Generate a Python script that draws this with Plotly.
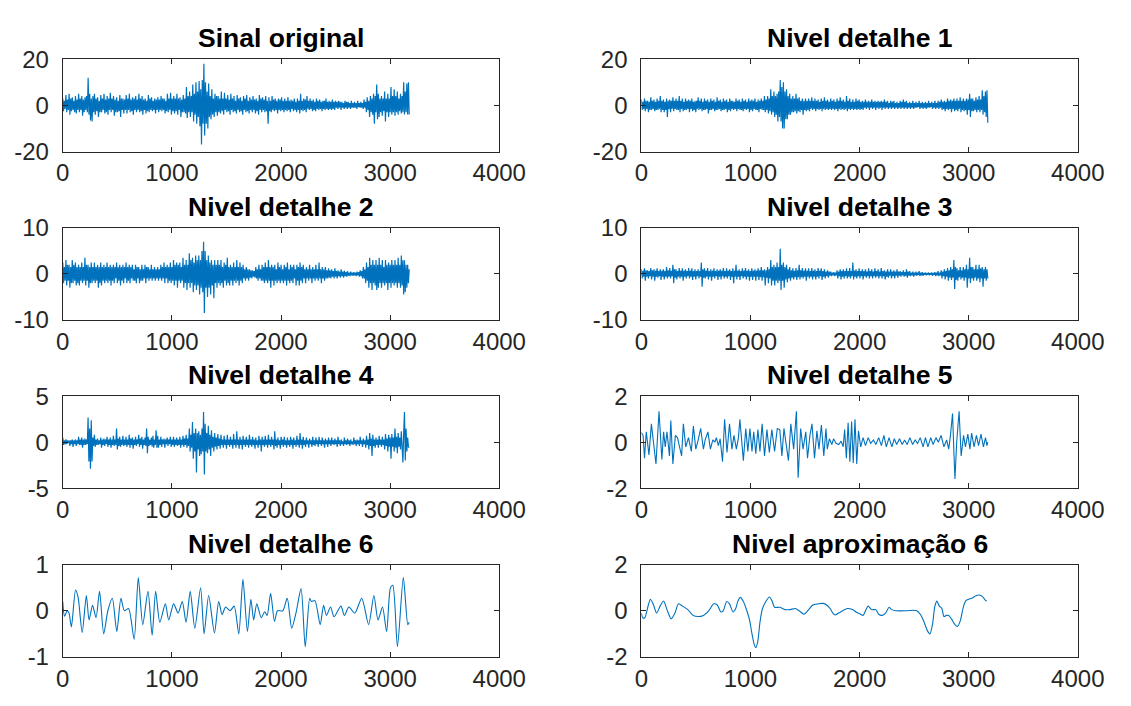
import numpy as np
import plotly.graph_objects as go

# Decomposição wavelet de um sinal (3175 amostras): sinal, detalhes 1-6 e aproximação 6
N_SAMPLES = 3175

sinal_original = [
    3, -2.5, 2, -1.5, 4.5, -3, 2.5, -2, 5, -4, 3, -2.5, 3.5, -2, 2, -3, 4, -3.5, 2.5, -2,
    5, -3, 3, -2, 4, -4.5, 2.5, -3, 3.5, -2, 4, -3, 12, -4, 5, -6.5, 3, -7, 4, -3,
    5, -4, 3, -2.5, 3.5, -5, 2, -3, 4.5, -3, 3, -2, 5, -3.5, 2.5, -3, 4, -4, 3, -2,
    5.5, -3, 3, -2, 4, -4.5, 2.5, -3, 3.5, -3, 2, -2.5, 4.5, -5, 3, -2, 3, -3.5, 2.5, -2,
    4.5, -3.5, 3, -2, 5, -3, 2.5, -2.5, 3.5, -4, 3, -2, 4, -3, 2.5, -2, 5, -3, 3, -2.5,
    4, -4, 2.5, -2, 3, -3.5, 2, -2.5, 4.5, -3, 3, -2, 3.5, -2.5, 2, -2, 3, -3.5, 2.5, -2,
    3.5, -3, 2.5, -2, 4, -2.5, 3, -2, 3, -3.5, 2, -2.5, 5, -3, 3, -2, 5.5, -4, 3, -2.5,
    4, -3.5, 3, -2.5, 5, -4, 3, -2, 3.5, -5, 2.5, -3, 4.5, -3, 3, -3.5, 8, -5.5, 4, -3,
    6, -5, 4, -3, 9, -7, 5, -4, 10, -8, 6, -5, 10.5, -9, 7, -17, 11, -8, 18,
    -13, 10, -8, 6, -10, 9.5, -5, 4, -6, 7, -4, 3, -5, 5, -3, 4, -4.5, 4, -3, 3,
    -3.5, 6, -2.5, 3, -4, 5.5, -2, 3, -3, 4.5, -2.5, 2.5, -4, 5, -2, 3, -3, 4, -2.5, 2,
    -3.5, 4.5, -2, 3, -3, 3.5, -2.5, 2, -4, 4, -2, 3, -3, 4.5, -2.5, 2, -3.5, 3.5, -2, 2.5,
    -3, 4, -2, 2.5, -3.5, 3, -2.5, 2, -4, 4.5, -2, 3, -3, 3.5, -2, 2.5, -3, 4, -2.5, 2,
    -8, 3.5, -2.5, 2, -3, 4, -2, 2.5, -2.5, 3, -2, 2, -3.5, 3, -2, 2.5, -2.5, 3.5, -2, 2,
    -3, 3, -2, 2, -2.5, 3.5, -2, 2, -3, 2.5, -1.5, 2, -2.5, 3, -2, 1.5, -3, 3, -2, 2,
    -3.5, 5, -2, 2, -2.5, 3, -2, 2.5, -3, 4, -1.5, 2, -2, 3, -1.5, 2, -2.5, 2.5, -2, 1.5,
    -2.5, 3, -1.5, 2, -2, 2.5, -1.5, 1.5, -2.5, 2, -1.5, 2, -2, 3, -1.5, 1.5, -2, 2, -1.5, 1.5,
    -2, 2.5, -1.5, 1.5, -2, 2, -1, 1.5, -1.5, 2, -1, 1.5, -2, 1.5, -1, 1, -1.5, 2, -1, 1.5,
    -1.5, 1.5, -1, 1, -1.5, 2, -1, 1, -1, 1.5, -1, 1, -1.5, 2, -0.8, 1, -1, 1.5, -1, 1,
    -1.5, 2.5, -1, 1.5, -3, 3.5, -2, 2, -5, 4, -3, 3, -4, 5, -8, 4, -3, 9, -6,
    5, -5, 3, -3, 4, -4.5, 3, -2.5, 6, -7, 3, -3, 5, -5, 3, -3, 8, -4, 4, -3,
    7, -4.5, 4, -3, 6, -4, 3, -2.5, 5, -3.5, 4, -3, 10, -4, 6, -3, 9.5, -4, 10, -4,
]

detalhe_1 = [
    2.5, -2, 1.5, -1.5, 3, -2.5, 2, -1.5, 2, -3, 1.5, -2, 3.5, -2, 2, -1.5, 2.5, -2.5, 1.5, -2,
    3, -2, 2, -1.5, 4, -3, 2, -2, 2.5, -3, 1.5, -2, 3, -5, 2, -1.5, 2.5, -3, 2, -1.5,
    3.5, -2.5, 2, -1.5, 3, -2, 2, -2, 4, -3, 2, -1.5, 3, -2.5, 1.5, -2, 3, -2, 2, -1.5,
    2.5, -3, 2, -1.5, 3, -2.5, 1.5, -2, 2, -3, 2, -1.5, 3.5, -2, 2, -1.5, 3, -2.5, 1.5, -2,
    3, -2, 2, -1.5, 2.5, -3.5, 1.5, -2, 3, -2, 2, -1.5, 2.5, -2.5, 1.5, -2, 3.5, -2, 2, -1.5,
    2.5, -2.5, 1.5, -2, 3, -2, 2, -1.5, 2.5, -3, 1.5, -2, 3, -2.5, 2, -1.5, 2, -2, 1.5, -1.5,
    3, -2.5, 2, -1.5, 2.5, -2, 1.5, -2, 3, -2.5, 2, -1.5, 2.5, -2, 1.5, -1.5, 3, -3, 2, -2,
    2.5, -2.5, 2, -1.5, 3, -2, 1.5, -2, 2.5, -3, 2, -1.5, 3, -2, 2, -2, 4, -3, 2.5, -2,
    4, -3.5, 3, -2.5, 7, -4, 4, -3, 6, -5, 4, -4, 5, -7, 6, -5, 11, -7, 8, -10,
    10, -10, 6, -6, 7, -6, 4, -4, 5, -4, 3, -3, 4, -3, 3, -2.5, 5, -3.5, 3, -2.5,
    3.5, -3, 2, -2, 3, -4, 2, -2, 3, -2.5, 2, -2, 3, -2.5, 2, -1.5, 3.5, -2, 2, -1.5,
    3, -2.5, 2, -1.5, 2.5, -2, 1.5, -1.5, 3, -2.5, 2, -1.5, 3.5, -2, 2, -1.5, 2.5, -2, 1.5, -1.5,
    3, -2, 2, -1.5, 2.5, -2, 1.5, -1.5, 3, -2.5, 2, -1.5, 3.5, -2, 2, -1.5, 2.5, -2, 1.5, -1.5,
    4, -2.5, 2, -1.5, 3, -2, 1.5, -1.5, 2.5, -2, 1.5, -1.5, 3, -2, 2, -1.5, 2.5, -2, 1.5, -1.5,
    2, -2, 1.5, -1, 2.5, -1.5, 1.5, -1, 2, -2, 1.5, -1, 2.5, -1.5, 1.5, -1, 2, -2, 1.5, -1,
    2, -1.5, 1.5, -1, 2, -2, 1.5, -1, 2.5, -1.5, 1.5, -1, 2, -1.5, 1, -1, 2, -1.5, 1.5, -1,
    2, -1.5, 1, -1, 1.5, -1.5, 1, -1, 2, -1.5, 1.5, -1, 2.5, -1.5, 1.5, -1, 2, -1.5, 1, -1,
    1.5, -1.5, 1, -1, 2, -1.5, 1, -1, 1.5, -1, 1, -0.8, 2, -1.5, 1, -1, 1.5, -1.5, 1, -1,
    1.5, -1.5, 1, -1, 2, -1, 1, -0.8, 1.5, -1.5, 1, -1, 2, -1.5, 1, -1, 2, -1.5, 1.5, -1,
    2.5, -2, 1.5, -1.5, 2, -2.5, 1.5, -1.5, 3, -2, 2, -1.5, 2.5, -3, 2, -1.5, 3, -2.5, 2, -2,
    3, -2.5, 2, -1.5, 3.5, -3, 2, -2, 3, -2.5, 2, -2, 3, -4, 2.5, -2, 5, -5, 3, -2.5,
    3, -2.5, 2, -2, 3.5, -3, 2.5, -2, 4, -3, 2.5, -2, 6.5, -4, 4, -3, 6, -5, 6.5, -7.5,
]

detalhe_2 = [
    2.5, -2, 1.5, -1.5, 3, -2.5, 2, -1.5, 2, -3, 1.5, -2, 3, -2, 2, -1.5, 2.5, -2.5, 1.5, -2,
    2, -2.5, 1.5, -1.5, 2.5, -2, 1.5, -1.5, 3.5, -2.5, 2, -1.5, 2, -3, 1.5, -2, 2.5, -2, 1.5, -1.5,
    2.5, -2, 1.5, -1.5, 2, -3, 1.5, -2, 2.5, -2.5, 1.5, -1.5, 2, -2, 1.5, -1.5, 2.5, -2, 1.5, -1.5,
    2, -2.5, 1.5, -1.5, 2, -2, 1.5, -1, 2.5, -2, 1.5, -1.5, 2, -2.5, 1.5, -1.5, 2, -2, 1.5, -1,
    2.5, -2, 1.5, -1.5, 2, -2, 1.5, -1, 2, -1.5, 1, -1.5, 2, -2, 1.5, -1, 1.5, -2, 1, -1.5,
    2, -1.5, 1, -1, 2, -2, 1.5, -1, 1.5, -1.5, 1, -1, 2, -1.5, 1, -1, 1.5, -1.5, 1, -1,
    1.5, -1.5, 1, -1, 2, -1.5, 1.5, -1, 2.5, -2, 1.5, -1, 2, -2, 1.5, -1.5, 2.5, -2, 1.5, -1.5,
    3, -2.5, 2, -1.5, 2.5, -3, 2, -1.5, 2.5, -2, 1.5, -1.5, 3.5, -3, 2, -2, 3, -3.5, 2, -2,
    4.5, -3, 3, -2, 3.5, -4, 2.5, -2.5, 4, -3.5, 3, -2.5, 4, -4.5, 3, -3, 5, -4, 7,
    -8.5, 5, -3, 3, -5, 4, -3, 2.5, -4.5, 3, -2.5, 2, -5.3, 3, -2, 2, -3, 3, -2, 2,
    -2.5, 3, -2, 1.5, -3, 2.5, -1.5, 2, -2.5, 3.5, -2, 1.5, -2.5, 2, -1.5, 1.5, -2.5, 2.5, -1.5, 1.5,
    -2, 3, -1.5, 1.5, -2.5, 2.5, -1.5, 1.5, -2, 2, -1, 1, -1.5, 1.5, -1, 1, -1.5, 1, -0.8, 0.8,
    -1, 0.8, -0.6, 0.6, -0.8, 1.5, -1, 1, -1.5, 2, -1, 1, -1.5, 2, -1.5, 1.5, -2, 2.5, -1.5, 1.5,
    -2, 3, -1.5, 1.5, -3, 2, -1.5, 1.5, -2.5, 2, -1.5, 1, -2, 2.5, -1.5, 1.5, -2, 2, -1.5, 1,
    -2, 2, -1.5, 1.5, -2.5, 2.5, -1.5, 1, -2, 2, -1.5, 1.5, -2, 2, -1, 1, -2.5, 2, -1.5, 1.5,
    -2.5, 2.5, -1.5, 1.5, -2, 2, -1, 1, -2, 1.5, -1, 1, -1.5, 2, -1, 1, -2, 1.5, -1, 1,
    -1.5, 2, -1, 1, -1.5, 2.5, -1, 1, -2, 1.5, -1, 1, -1.5, 1.5, -1, 0.8, -1, 1.2, -0.8, 0.8,
    -1, 1, -0.6, 0.6, -1, 1.2, -0.6, 0.6, -1, 0.8, -0.5, 0.5, -0.8, 1, -0.5, 0.5, -0.8, 0.7, -0.5, 0.4,
    -0.6, 0.6, -0.4, 0.3, -0.5, 0.5, -0.3, 0.3, -0.4, 0.4, -0.3, 0.3, -0.5, 0.5, -0.3, 0.4, -0.6, 0.8, -0.5, 0.6,
    -1, 1.5, -1, 1, -2, 2.5, -1.5, 1.5, -3, 3.5, -2, 2, -3.5, 3, -2, 2, -2.5, 3, -3.5, 2,
    -3, 3.5, -2, 2, -3, 3, -2, 1.5, -2.5, 3, -2, 2, -3.5, 2.5, -2, 2, -3, 3, -2, 2,
    -2.5, 3, -2, 2, -3, 3.5, -2, 2, -3, 4, -2.5, 3, -4.5, 3, -4, 2, -3, 2, -2, 1,
]

detalhe_3 = [
    1, -1, 0.7, -0.6, 1.2, -1.5, 0.8, -0.6, 0.8, -1, 0.6, -0.5, 1.3, -1.2, 0.8, -0.6, 1, -1.5, 0.7, -0.6,
    1.2, -0.8, 0.6, -0.5, 1, -1.3, 0.7, -0.6, 1, -1.2, 0.6, -0.6, 1.5, -1, 0.8, -0.6, 1.3, -1, 0.7, -0.5,
    2, -2, 1, -0.8, 1, -1.2, 0.6, -0.6, 1.3, -1, 0.7, -0.6, 1.2, -1.5, 0.7, -0.6, 1, -1, 0.6, -0.5,
    1.3, -1, 0.7, -0.6, 1.2, -1.3, 0.6, -0.6, 1, -1.2, 0.6, -0.5, 1, -1, 0.6, -0.6, 2.5, -2.8, 1, -0.8,
    1.2, -1, 0.7, -0.6, 1.3, -1.2, 0.6, -0.6, 1, -1.5, 0.7, -0.6, 1.2, -1, 0.6, -0.5, 1, -1.3, 0.7, -0.6,
    1, -1.2, 0.7, -0.5, 1.3, -1, 0.6, -0.6, 1.2, -1, 0.7, -0.5, 1, -1.3, 0.6, -0.6, 1.2, -2, 0.7, -0.6,
    2, -1.2, 0.7, -0.6, 1, -1.3, 0.6, -0.5, 1.2, -1, 0.7, -0.6, 1.3, -1.2, 0.7, -0.6, 1, -1.5, 0.6, -0.6,
    1.2, -1.3, 0.7, -0.6, 1, -1.5, 0.7, -0.6, 1.2, -1.3, 0.8, -0.7, 1.5, -1.5, 0.8, -0.7, 1, -2.5, 0.8, -0.8,
    1.5, -2, 1, -1, 3, -2.5, 1.5, -1.5, 2, -2.5, 1.5, -1.5, 2.5, -2, 1.5, -1.5, 5.5, -3.5, 2, -1.5,
    2.5, -3, 1.5, -1.2, 2, -1.8, 1, -1, 1.5, -1.5, 0.8, -0.8, 1.2, -1.2, 0.7, -0.7, 1.3, -1.3, 0.8, -0.7,
    2, -1.2, 0.8, -0.7, 1.3, -1, 0.7, -0.6, 1.2, -1.5, 0.7, -0.6, 1.2, -1, 0.6, -0.6, 1.3, -1.2, 0.7, -0.6,
    1, -1.2, 0.6, -0.6, 1.3, -1, 0.7, -0.5, 1.2, -1.3, 0.6, -0.6, 1, -1, 0.5, -0.5, 0.8, -0.8, 0.5, -0.4,
    0.5, -0.5, 0.3, -0.3, 0.4, -0.5, 0.3, -0.3, 0.8, -1, 0.5, -0.5, 1, -1.2, 0.6, -0.6, 1, -1, 0.6, -0.5,
    1.2, -1, 0.6, -0.6, 1.3, -1, 0.6, -0.5, 2.5, -1.2, 0.7, -0.6, 1, -1, 0.6, -0.5, 1.2, -1, 0.6, -0.5,
    1, -1.2, 0.6, -0.5, 1, -0.8, 0.5, -0.5, 1.2, -1, 0.6, -0.5, 1, -1, 0.5, -0.5, 1.2, -0.8, 0.6, -0.5,
    1, -1, 0.5, -0.5, 1.3, -1, 0.6, -0.5, 0.8, -1.2, 0.5, -0.6, 1, -0.8, 0.5, -0.4, 1, -1, 0.5, -0.5,
    0.8, -1, 0.5, -0.4, 1, -0.8, 0.5, -0.4, 0.6, -0.6, 0.4, -0.3, 0.8, -0.6, 0.4, -0.4, 1, -0.8, 0.5, -0.4,
    0.6, -0.5, 0.3, -0.3, 0.5, -0.6, 0.3, -0.3, 0.5, -0.4, 0.3, -0.2, 0.6, -0.5, 0.3, -0.3, 0.4, -0.4, 0.2, -0.2,
    0.3, -0.3, 0.2, -0.2, 0.3, -0.3, 0.2, -0.2, 0.3, -0.4, 0.2, -0.2, 0.4, -0.5, 0.3, -0.3, 0.6, -0.5, 0.3, -0.3,
    0.8, -1, 0.5, -0.5, 1, -1.2, 0.6, -0.6, 1.3, -1.5, 0.8, -0.8, 1.5, -1.3, 1, -0.8, 3, -3.3, 1.5, -1.3,
    1.2, -1.5, 0.8, -0.7, 1.5, -1.2, 0.8, -0.8, 1.5, -1.5, 1, -0.8, 2, -3, 1, -1, 3.5, -2, 1.5, -1,
    1.5, -1.5, 1, -0.8, 2, -1.5, 1, -1, 2, -1.8, 1.2, -1, 1.5, -2.8, 1, -1, 1.5, -1.5, 1, -1,
]

detalhe_4 = [
    0.5, -0.3, 0.2, -0.2, 0.3, -0.2, 0.2, -0.1, 0.2, -0.4, 0.2, -0.2, 0.3, -0.5, 0.2, -0.2, 0.3, -0.4, 0.2, -0.2,
    0.6, -0.3, 0.3, -0.3, 0.5, -0.6, 0.3, -0.3, 0.4, -0.3, 0.3, -0.2, 2.7, -2.1, 1.5, -2.9, 2.4, -2.1, 0.5, -0.4,
    0.8, -0.5, 0.3, -0.3, 0.4, -0.3, 0.2, -0.2, 0.5, -0.6, 0.3, -0.3, 0.4, -0.4, 0.3, -0.2, 0.6, -0.5, 0.3, -0.3,
    0.5, -0.6, 0.3, -0.3, 0.7, -0.4, 0.3, -0.3, 1.5, -0.8, 0.4, -0.4, 0.6, -0.5, 0.3, -0.3, 0.7, -0.4, 0.3, -0.3,
    0.6, -0.5, 0.3, -0.3, 0.8, -0.6, 0.4, -0.3, 0.5, -0.7, 0.3, -0.3, 0.6, -0.4, 0.3, -0.2, 0.8, -0.5, 0.4, -0.3,
    0.6, -0.7, 0.3, -0.3, 0.5, -0.4, 1.5, -1.2, 0.6, -0.4, 0.3, -0.3, 0.5, -0.5, 0.7, -0.6, 0.3, -0.3, 1.3, -0.6,
    0.7, -0.6, 0.3, -0.3, 0.6, -0.5, 0.3, -0.2, 0.4, -0.6, 0.3, -0.2, 0.5, -0.4, 0.3, -0.2, 0.6, -0.5, 0.3, -0.3,
    0.6, -0.5, 0.3, -0.3, 0.5, -0.4, 0.3, -0.3, 0.6, -0.6, 0.3, -0.3, 0.7, -0.5, 0.4, -0.3, 0.8, -0.6, 0.4, -0.4,
    1.5, -1, 0.8, -0.6, 2.2, -1.8, 1, -1, 1.5, -3.3, 1, -0.8, 1.2, -1.5, 0.8, -1.3, 1.5, -1, 3.3,
    -3.5, 2, -1, 1, -1.2, 1.8, -0.8, 0.8, -1.5, 1.3, -0.6, 0.6, -1, 1, -0.5, 0.5, -0.8, 0.9, -0.4, 0.4,
    -0.7, 0.8, -0.3, 0.3, -0.6, 0.7, -0.3, 0.3, -0.7, 0.8, -0.3, 0.3, -0.5, 0.6, -0.3, 0.3, -0.7, 0.9, -0.3, 0.3,
    -0.6, 1.2, -0.3, 0.3, -0.7, 0.6, -0.3, 0.3, -0.8, 0.7, -0.3, 0.3, -0.5, 0.6, -0.3, 0.3, -0.6, 0.8, -0.3, 0.3,
    -0.5, 0.6, -0.3, 0.3, -0.7, 0.5, -0.3, 0.2, -0.6, 0.7, -0.3, 0.3, -1, 0.6, -0.3, 0.3, -0.5, 0.7, -0.3, 0.3,
    -0.6, 0.8, -0.3, 0.3, -0.5, 0.6, -0.3, 0.3, -0.8, 1.2, -0.4, 0.3, -0.6, 0.5, -0.3, 0.2, -0.7, 0.6, -0.3, 0.3,
    -0.5, 0.6, -0.3, 0.2, -0.6, 0.5, -0.3, 0.2, -0.5, 0.6, -0.3, 0.3, -0.7, 0.5, -0.3, 0.2, -0.5, 0.7, -0.3, 0.3,
    -0.6, 1, -0.3, 0.3, -0.7, 0.6, -0.3, 0.2, -0.5, 0.5, -0.2, 0.2, -0.6, 0.4, -0.2, 0.2, -0.5, 0.6, -0.3, 0.2,
    -0.4, 0.5, -0.2, 0.2, -0.5, 0.6, -0.2, 0.2, -0.4, 0.5, -0.2, 0.2, -0.6, 0.4, -0.2, 0.2, -0.5, 0.5, -0.2, 0.2,
    -0.4, 0.5, -0.2, 0.2, -0.3, 0.4, -0.2, 0.2, -0.5, 0.6, -0.2, 0.2, -0.4, 0.3, -0.2, 0.1, -0.4, 0.5, -0.2, 0.2,
    -0.3, 0.4, -0.2, 0.2, -0.4, 0.3, -0.2, 0.1, -0.3, 0.5, -0.2, 0.2, -0.4, 0.3, -0.2, 0.2, -0.4, 0.6, -0.2, 0.2,
    -0.5, 0.4, -0.2, 0.2, -0.6, 0.7, -0.3, 0.3, -0.8, 1, -0.4, 0.4, -1.5, 0.8, -0.4, 0.3, -0.6, 0.5, -0.3, 0.3,
    -0.6, 0.7, -0.3, 0.3, -0.5, 0.6, -0.3, 0.3, -0.8, 0.9, -0.4, 0.4, -1, 0.8, -0.5, 0.5, -1.8, 0.9, -0.5, 0.5,
    -1, 1.5, -0.6, 0.6, -1.2, 1, -0.5, 0.5, -0.8, 1.2, -0.6, -2.2, 1, 3.3, -2, 1.5, -1, 0.5, -0.5, -0.6,
]

# Detalhe 5: amostras dos extremos (posição, valor)
detalhe_5_t = [
    0, 16, 29, 45, 70, 92, 134, 162, 188, 204, 219, 235, 258, 270, 289, 312,
    331, 347, 369, 385, 407, 432, 458, 477, 499, 521, 544, 569, 585, 610, 633,
    655, 674, 687, 706, 722, 744, 763, 785, 808, 830, 849, 871, 890, 903, 935,
    957, 976, 995, 1014, 1030, 1049, 1068, 1087, 1107, 1129, 1151, 1173, 1196,
    1221, 1246, 1269, 1288, 1307, 1332, 1348, 1370, 1396, 1421, 1437, 1460,
    1482, 1507, 1523, 1545, 1564, 1587, 1609, 1628, 1650, 1672, 1692, 1704,
    1723, 1746, 1761, 1784, 1809, 1831, 1850, 1863, 1879, 1895, 1911, 1927,
    1942, 1958, 1974, 1990, 2010, 2032, 2054, 2079, 2102, 2127, 2149, 2175,
    2200, 2223, 2245, 2270, 2296, 2318, 2340, 2366, 2391, 2413, 2436, 2461,
    2486, 2509, 2531, 2556, 2582, 2604, 2626, 2652, 2674, 2700, 2722, 2747,
    2773, 2798, 2817, 2833, 2852, 2865, 2874, 2890, 2912, 2931, 2953, 2970,
    2992, 3011, 3027, 3049, 3071, 3090, 3113, 3135, 3154, 3167, 3175,
]
detalhe_5 = [
    0.42, 0.3, -0.7, 0.45, -0.55, 0.8, -0.95, 1.35, -0.75, 0.45, -0.2, 0.45,
    -0.6, 0.95, -0.95, 0.3, 0.2, -0.2, -0.6, 0.8, -0.2, 0.2, -0.4, 0.7, -0.3,
    0.1, 0.6, -0.3, 0.1, 0.45, -0.3, 0.1, 0.0, 0.2, -0.15, 0.15, -0.85, 1.0,
    -0.45, 0.8, -0.3, 0.3, -0.3, 0.2, 1.0, -0.8, 0.6, -0.4, 0.6, -0.4, 0.45,
    -0.5, 0.55, -0.4, 0.8, -0.6, 0.55, -0.45, 0.55, -0.4, 0.6, 0.55, -0.6,
    0.6, -0.35, -0.8, 0.8, -0.3, 1.35, -1.55, 0.6, -0.3, 0.45, -0.7, 0.3,
    0.8, -0.7, 0.5, -0.3, 0.75, -0.6, 0.6, -0.3, 0.15, -0.1, 0.15, -0.05,
    -0.1, 0.05, -0.2, 0.55, -0.7, 0.85, -0.85, 0.9, -0.9, 1.0, -0.95, 0.5,
    -0.2, 0.2, -0.15, 0.2, -0.05, 0.1, -0.1, 0.2, -0.15, 0.3, -0.2, 0.2,
    -0.2, 0.15, -0.1, 0.15, -0.1, 0.1, -0.1, 0.2, -0.1, 0.1, -0.05, 0.2,
    -0.2, 0.2, -0.2, 0.2, -0.1, 0.2, 0.0, 0.3, -0.2, 0.1, -0.3, 0.3, 1.25,
    -0.5, -1.6, 0.0, 1.35, -0.6, 0.3, -0.2, 0.35, -0.3, 0.4, -0.2, 0.3,
    -0.15, 0.35, -0.2, 0.2, -0.15, 0.0,
]

detalhe_6_t = [
    0, 16, 40, 57, 79, 117, 140, 178, 216, 241, 273, 305, 337, 375, 413, 454,
    495, 533, 565, 603, 654, 692, 733, 781, 819, 851, 889, 940, 971, 1016,
    1057, 1095, 1130, 1168, 1210, 1263, 1295, 1337, 1390, 1429, 1460, 1492,
    1533, 1571, 1613, 1651, 1692, 1724, 1749, 1778, 1819, 1851, 1873, 1905,
    1940, 1968, 2016, 2057, 2098, 2137, 2184, 2222, 2263, 2279, 2311, 2359,
    2390, 2416, 2454, 2486, 2549, 2581, 2622, 2676, 2740, 2803, 2851, 2889,
    2930, 2968, 3003, 3025, 3067, 3121, 3162, 3175,
]
detalhe_6 = [
    0.2, -0.12, 0.0, -0.05, -0.35, 0.45, 0.3, -0.47, 0.33, -0.2, 0.12, -0.15,
    0.42, -0.5, 0.0, 0.27, -0.45, 0.27, 0.0, 0.05, -0.62, 0.72, -0.3, 0.42,
    -0.53, 0.42, -0.25, 0.15, -0.2, 0.15, -0.05, 0.2, -0.25, 0.42, -0.38, 0.5,
    -0.5, 0.33, -0.48, 0.2, -0.08, 0.08, 0.0, 0.1, -0.5, 0.68, -0.45, 0.25,
    -0.2, 0.15, -0.15, -0.02, -0.1, 0.38, -0.23, 0.0, 0.0, 0.27, -0.38, -0.05,
    0.48, -0.78, 0.27, 0.2, 0.22, -0.3, 0.12, -0.1, 0.08, -0.13, 0.1, -0.1,
    0.08, -0.05, 0.27, -0.3, 0.33, -0.2, 0.08, -0.45, 0.5, 0.55, -0.78, 0.72,
    -0.3, -0.25,
]

aprox_6_t = [
    0, 13, 32, 64, 83, 108, 140, 172, 204, 235, 273, 308, 340, 378, 426, 474,
    521, 569, 617, 664, 696, 728, 750, 782, 808, 840, 865, 887, 909, 935, 967,
    992, 1014, 1037, 1049, 1068, 1087, 1110, 1141, 1173, 1196, 1221, 1269,
    1316, 1364, 1412, 1460, 1491, 1533, 1571, 1619, 1666, 1698, 1730, 1755,
    1777, 1825, 1889, 1936, 1968, 2010, 2032, 2064, 2079, 2111, 2149, 2175,
    2207, 2238, 2270, 2296, 2334, 2429, 2493, 2525, 2556, 2588, 2620, 2645,
    2668, 2690, 2709, 2731, 2754, 2773, 2795, 2817, 2842, 2874, 2896, 2922,
    2953, 2976, 3001, 3033, 3065, 3097, 3129, 3154, 3167,
]
aprox_6 = [
    -0.1, -0.3, -0.3, 0.25, 0.5, 0.3, -0.1, 0.2, 0.42, 0.05, -0.35, -0.1, 0.3,
    0.2, 0.05, -0.2, -0.25, -0.2, 0.0, 0.3, 0.25, -0.05, 0.0, 0.4, 0.3, -0.05,
    0.1, 0.45, 0.58, 0.4, 0.0, -0.4, -1.0, -1.5, -1.6, -1.3, -0.5, 0.1, 0.4,
    0.6, 0.45, 0.15, 0.15, 0.05, 0.05, 0.1, -0.05, -0.15, 0.05, 0.25, 0.3,
    0.32, 0.25, 0.1, -0.1, -0.18, -0.05, 0.1, 0.05, -0.05, -0.15, -0.2, 0.1,
    0.2, 0.05, 0.05, -0.15, -0.2, -0.1, 0.15, 0.05, 0.0, 0.0, 0.02, 0.0,
    -0.15, -0.45, -0.85, -1.0, -0.6, 0.2, 0.42, 0.2, 0.1, -0.25, -0.2, -0.2,
    -0.35, -0.6, -0.68, -0.45, 0.2, 0.45, 0.5, 0.55, 0.65, 0.68, 0.6, 0.45,
    0.42,
]

titulos = [
    "Sinal original", "Nivel detalhe 1", "Nivel detalhe 2", "Nivel detalhe 3",
    "Nivel detalhe 4", "Nivel detalhe 5", "Nivel detalhe 6", "Nivel aproximação 6",
]
x_ticks = [0, 1000, 2000, 3000, 4000]
y_limites = [20, 20, 10, 10, 5, 2, 1, 2]


def amostras(valores):
    return np.linspace(0, N_SAMPLES, len(valores))


series = [
    (amostras(sinal_original), sinal_original, "denso"),
    (amostras(detalhe_1), detalhe_1, "denso"),
    (amostras(detalhe_2), detalhe_2, "denso"),
    (amostras(detalhe_3), detalhe_3, "denso"),
    (amostras(detalhe_4), detalhe_4, "denso"),
    (detalhe_5_t, detalhe_5, "linear"),
    (detalhe_6_t, detalhe_6, "spline"),
    (aprox_6_t, aprox_6, "spline"),
]

W, H = 1131, 706
col_px = [(57.5, 507.5), (654, 1104)]
row_px = [(47, 143), (222.5, 318), (397.5, 493), (572.5, 668.5)]

LINE = "#0072BD"
AXIS = "#262626"
FONT = "Liberation Sans, Arial, Helvetica, sans-serif"

fig = go.Figure()
layout = {}
for k, ((tx, ty, shape), titulo, lim) in enumerate(zip(series, titulos, y_limites)):
    r, c = divmod(k, 2)
    idx = "" if k == 0 else str(k + 1)
    x0, x1 = col_px[c]
    top, bot = row_px[r]
    dom_x = [x0 / W, x1 / W]
    dom_y = [1 - bot / H, 1 - top / H]
    line = dict(color=LINE, width=1.2 if shape == "denso" else 1.1)
    if shape == "spline":
        line.update(shape="spline", smoothing=0.7)
    fig.add_trace(go.Scatter(x=tx, y=ty, mode="lines", line=line,
                             xaxis="x" + idx, yaxis="y" + idx,
                             showlegend=False, hoverinfo="skip"))
    y_ticks = [-lim, 0, lim]
    common = dict(showgrid=False, zeroline=False, showline=True, linecolor=AXIS,
                  linewidth=1, mirror="ticks", ticks="inside", ticklen=5,
                  tickwidth=1, tickcolor=AXIS,
                  tickfont=dict(family=FONT, size=24, color=AXIS))
    layout["xaxis" + idx] = dict(common, domain=dom_x, range=[0, 4000],
                                 tickvals=x_ticks,
                                 ticktext=[str(v) for v in x_ticks],
                                 anchor="y" + idx, ticklabelstandoff=0)
    layout["yaxis" + idx] = dict(common, domain=dom_y, range=[-lim, lim],
                                 tickvals=y_ticks,
                                 ticktext=[str(v) for v in y_ticks],
                                 anchor="x" + idx, ticklabelstandoff=8)
    fig.add_annotation(text="<b>" + titulo + "</b>", xref="paper", yref="paper",
                       x=(dom_x[0] + dom_x[1]) / 2, y=dom_y[1], xanchor="center",
                       yanchor="middle", yshift=21, showarrow=False,
                       font=dict(family=FONT, size=26.5, color="black"))

fig.update_layout(width=W, height=H, margin=dict(l=0, r=0, t=0, b=0),
                  paper_bgcolor="white", plot_bgcolor="white", **layout)
fig.write_html("out.html")
